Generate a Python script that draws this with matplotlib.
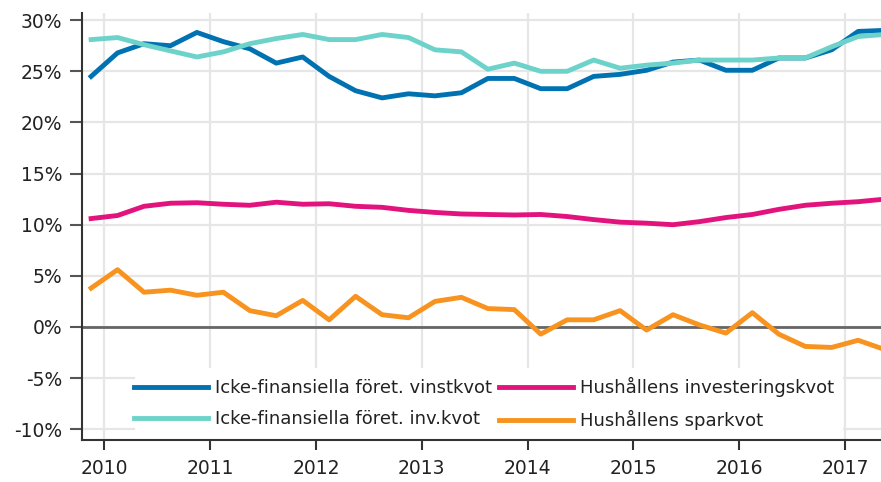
import matplotlib
matplotlib.use("Agg")
import matplotlib.pyplot as plt
from matplotlib.patches import Rectangle
from matplotlib.ticker import FuncFormatter
import pandas as pd

# quarterly data, 2009Q4 - 2017Q2
quarters = pd.period_range("2009Q4", "2017Q2", freq="Q")

vinstkvot = [24.5, 26.8, 27.7, 27.5, 28.8, 27.9, 27.2, 25.8, 26.4, 24.5,
             23.1, 22.4, 22.8, 22.6, 22.9, 24.3, 24.3, 23.3, 23.3, 24.5,
             24.7, 25.1, 25.9, 26.1, 25.1, 25.1, 26.3, 26.3, 27.1, 28.9, 29.0]
invkvot = [28.1, 28.3, 27.6, 27.0, 26.4, 26.9, 27.7, 28.2, 28.6, 28.1,
           28.1, 28.6, 28.3, 27.1, 26.9, 25.2, 25.8, 25.0, 25.0, 26.1,
           25.3, 25.6, 25.8, 26.1, 26.1, 26.1, 26.3, 26.3, 27.4, 28.4, 28.6]
hh_invest = [10.6, 10.9, 11.8, 12.1, 12.15, 12.0, 11.9, 12.2, 12.0, 12.05,
             11.8, 11.7, 11.4, 11.2, 11.05, 11.0, 10.95, 11.0, 10.8, 10.5,
             10.25, 10.15, 10.0, 10.3, 10.7, 11.0, 11.5, 11.9, 12.1, 12.25, 12.5]
hh_spar = [3.8, 5.6, 3.4, 3.6, 3.1, 3.4, 1.6, 1.1, 2.6, 0.7,
           3.0, 1.2, 0.9, 2.5, 2.9, 1.8, 1.7, -0.7, 0.7, 0.7,
           1.6, -0.3, 1.2, 0.2, -0.6, 1.4, -0.7, -1.9, -2.0, -1.3, -2.2]

labels = ["Icke-finansiella föret. vinstkvot",
          "Icke-finansiella föret. inv.kvot",
          "Hushållens investeringskvot",
          "Hushållens sparkvot"]
colors = ["#0072b1", "#6dd3ca", "#e2137d", "#f7931e"]

years = list(range(2010, 2018))
yticks = list(range(-10, 31, 5))

# mid-quarter positions
x = [q.year + (q.quarter - 0.5) / 4 for q in quarters]

fig = plt.figure(figsize=(8.81, 4.82), dpi=100)
ax = fig.add_axes([82 / 881, 42 / 482, 799 / 881, 427 / 482])

ax.set_axisbelow(True)
ax.grid(True, color="#e6e6e6", linewidth=1.6)

ax.axhline(0, color="#666666", linewidth=2, zorder=1.8)

series = [vinstkvot, invkvot, hh_invest, hh_spar]
handles = []
for vals, c, lab in zip(series, colors, labels):
    h, = ax.plot(x, vals, color=c, linewidth=3.5, label=lab, zorder=3,
                 solid_joinstyle="round")
    handles.append(h)

ax.set_xlim(2009.789, 2017.341)
ax.set_ylim(-11.05, 30.7)
ax.set_xticks(years)
ax.set_yticks(yticks)
ax.yaxis.set_major_formatter(FuncFormatter(lambda v, p: f"{int(v)}%"))

for s in ["top", "right"]:
    ax.spines[s].set_visible(False)
for s in ["left", "bottom"]:
    ax.spines[s].set_color("#333333")
    ax.spines[s].set_linewidth(1.5)

ax.tick_params(axis="y", length=9, width=1.5, color="#555555", pad=5,
               labelsize=13.5, labelcolor="#222222")
ax.tick_params(axis="x", length=7, width=1.5, color="#333333", pad=7,
               labelsize=13.5, labelcolor="#222222")

# white block behind legend
ax.add_patch(Rectangle((0.0663, 0), 0.886, 0.1686, transform=ax.transAxes,
                       facecolor="white", edgecolor="none", zorder=1.5))

leg = ax.legend(handles=handles, ncol=2, frameon=False, loc="upper left",
                bbox_to_anchor=(0.065, 0.147), borderaxespad=0, borderpad=0,
                handlelength=4.1, handletextpad=0.4, columnspacing=0.35,
                labelspacing=0.7, fontsize=13)
for t in leg.get_texts():
    t.set_color("#222222")

fig.savefig("out.png", dpi=100)
